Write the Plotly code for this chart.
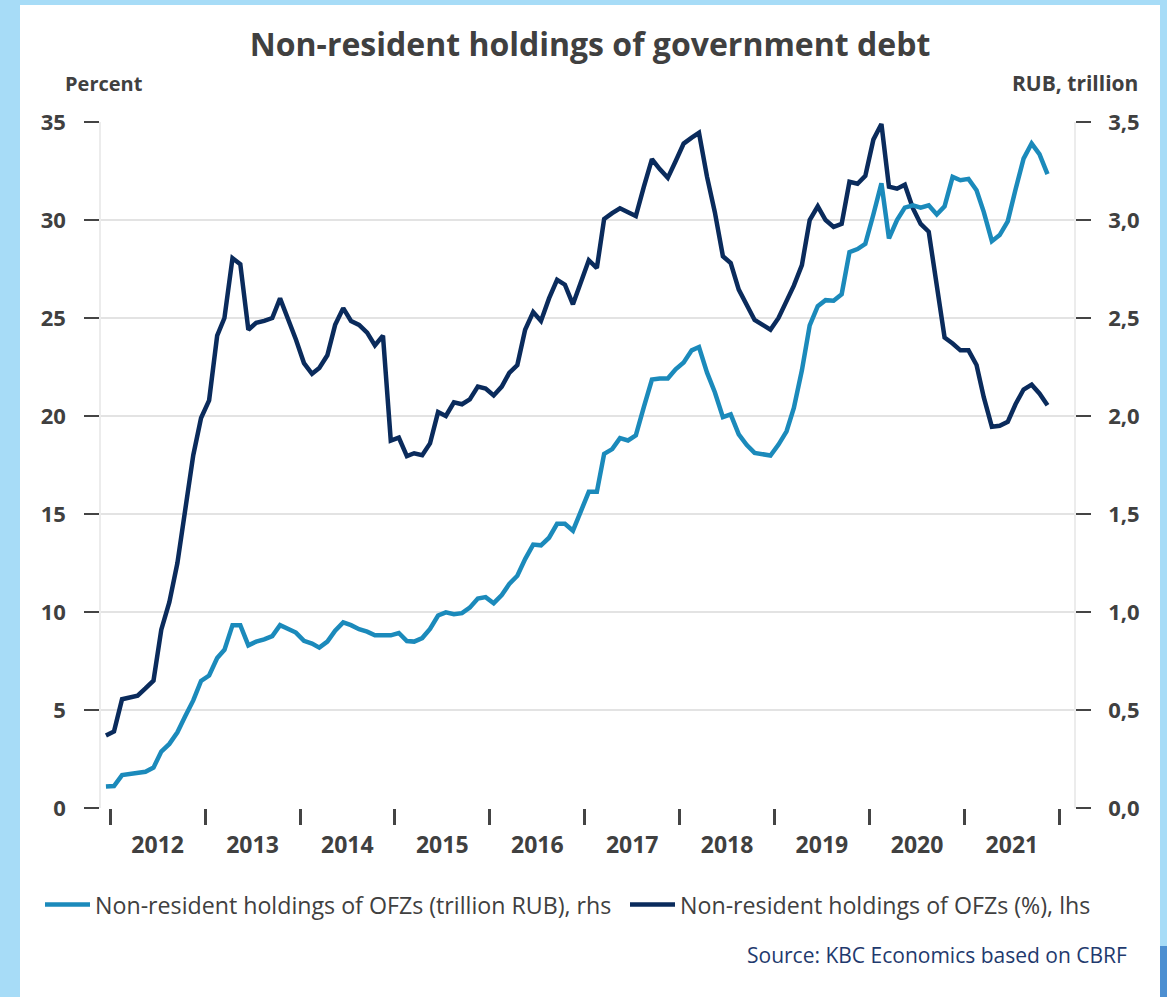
import pandas as pd
import plotly.graph_objects as go

# ---- data (monthly, Dec 2011 - Nov 2021) ----
month_start = "2011-12-01"
n_months = 120

pct_holdings = [
    3.7, 3.9, 5.55, 5.65, 5.73, 6.1, 6.5, 9.1, 10.5, 12.5, 15.2, 18.0,
    19.9, 20.8, 24.1, 25.0, 28.05, 27.75, 24.4, 24.75, 24.85, 25.0, 26.0, 24.95,
    23.9, 22.7, 22.15, 22.45, 23.1, 24.65, 25.5, 24.85, 24.65, 24.25, 23.6, 24.1,
    18.75, 18.9, 17.95, 18.1, 18.0, 18.6, 20.2, 20.0, 20.7, 20.6, 20.85, 21.5,
    21.4, 21.05, 21.5, 22.2, 22.6, 24.4, 25.3, 24.85, 26.0, 26.95, 26.7, 25.7,
    26.8, 27.95, 27.55, 30.05, 30.35, 30.6, 30.4, 30.2, 31.7, 33.1, 32.6, 32.15,
    33.0, 33.9, 34.2, 34.45, 32.2, 30.4, 28.15, 27.8, 26.45, 25.65, 24.9, 24.65,
    24.4, 25.0, 25.9, 26.65, 27.7, 30.0, 30.7, 30.0, 29.65, 29.8, 31.95, 31.85,
    32.25, 34.1, 34.9, 31.7, 31.6, 31.8, 30.6, 29.8, 29.4, 26.8, 24.0, 23.7,
    23.35, 23.35, 22.6, 20.95, 19.45, 19.5, 19.7, 20.6, 21.35, 21.6, 21.15, 20.55,
]

rub_holdings = [
    0.110, 0.112, 0.168, 0.173, 0.175, 0.185, 0.206, 0.288, 0.327, 0.386, 0.468, 0.549,
    0.648, 0.676, 0.765, 0.807, 0.933, 0.933, 0.830, 0.849, 0.860, 0.877, 0.933, 0.912,
    0.895, 0.853, 0.839, 0.818, 0.849, 0.905, 0.947, 0.933, 0.912, 0.900, 0.881, 0.881,
    0.881, 0.893, 0.852, 0.849, 0.867, 0.914, 0.982, 0.998, 0.989, 0.994, 1.022, 1.069,
    1.076, 1.045, 1.087, 1.143, 1.185, 1.270, 1.344, 1.340, 1.379, 1.450, 1.450, 1.415,
    1.520, 1.613, 1.613, 1.807, 1.831, 1.887, 1.875, 1.901, 2.046, 2.186, 2.191, 2.191,
    2.238, 2.273, 2.335, 2.352, 2.221, 2.121, 1.994, 2.008, 1.906, 1.852, 1.812, 1.805,
    1.798, 1.854, 1.922, 2.041, 2.233, 2.462, 2.560, 2.591, 2.588, 2.621, 2.836, 2.852,
    2.878, 3.028, 3.187, 2.906, 3.000, 3.063, 3.075, 3.063, 3.075, 3.028, 3.070, 3.220,
    3.203, 3.210, 3.152, 3.040, 2.892, 2.923, 2.993, 3.156, 3.313, 3.390, 3.336, 3.234,
]

year_labels = ["2012", "2013", "2014", "2015", "2016", "2017", "2018", "2019", "2020", "2021"]
boundary_years = list(range(2012, 2023))

name_rub = "Non-resident holdings of OFZs (trillion RUB), rhs"
name_pct = "Non-resident holdings of OFZs (%), lhs"

# mid-month dates
months = pd.date_range(month_start, periods=n_months, freq="MS") + pd.Timedelta(days=15)

LIGHT = "#1b8abb"
DARK = "#0a2b5c"
TXT = "#404040"
FONT = "Open Sans"

W, H = 1167, 997
L, R, T, B = 101, 1074, 122, 808  # plot area in px


def px_x(p):
    return (p - L) / (R - L)


def px_y(p):
    return (B - p) / (B - T)


fig = go.Figure()
fig.add_trace(go.Scatter(x=months, y=rub_holdings, name=name_rub, mode="lines",
                         line=dict(color=LIGHT, width=4.5), yaxis="y2", legend="legend2"))
fig.add_trace(go.Scatter(x=months, y=pct_holdings, name=name_pct, mode="lines",
                         line=dict(color=DARK, width=4.5), yaxis="y", legend="legend3"))


def legend_at(px_left):
    return dict(orientation="h", x=px_x(px_left), xanchor="left", y=px_y(905), yanchor="middle",
                font=dict(size=23.2, color=TXT, family=FONT), bgcolor="rgba(0,0,0,0)",
                itemwidth=45, visible=True)


fig.update_layout(
    width=W, height=H,
    margin=dict(l=L, r=W - R, t=T, b=H - B),
    paper_bgcolor="#a7dcf7",
    plot_bgcolor="white",
    separators=", ",
    showlegend=True,
    font=dict(family=FONT, color=TXT),
    title=dict(text="<b>Non-resident holdings of government debt</b>",
               x=px_x(590), xref="paper", y=1 - 45 / H, yref="container",
               xanchor="center", yanchor="middle",
               font=dict(size=32, color=TXT, family=FONT)),
    xaxis=dict(
        type="date",
        range=["2011-11-27", "2022-02-26"],
        tickmode="array",
        tickvals=[f"{y}-07-02" for y in year_labels],
        ticktext=[f"<b>{y}</b>" for y in year_labels],
        ticks="outside", ticklen=16, tickcolor="rgba(0,0,0,0)",
        tickfont=dict(size=23, color=TXT, family=FONT),
        showgrid=False, zeroline=False,
        showline=False,
        minor=dict(tickmode="array", tickvals=[f"{y}-01-01" for y in boundary_years],
                   ticks="outside", ticklen=16, tickwidth=2.5, tickcolor="#444444",
                   showgrid=False),
    ),
    yaxis=dict(
        range=[0, 35], tickmode="linear", tick0=0, dtick=5,
        ticks="outside", ticklen=15, tickwidth=1.5, tickcolor="#444444",
        ticklabelstandoff=14,
        tickfont=dict(size=22, color=TXT, family=FONT),
        tickprefix="<b>", ticksuffix="</b>",
        showgrid=True, gridcolor="#e3e3e3", gridwidth=1.5,
        zeroline=False, showline=True, linecolor="#ececec", linewidth=1.5,
    ),
    yaxis2=dict(
        range=[0, 3.5], tickmode="linear", tick0=0, dtick=0.5, tickformat=".1f",
        overlaying="y", side="right",
        ticks="outside", ticklen=15, tickwidth=1.5, tickcolor="#444444",
        ticklabelstandoff=13,
        tickfont=dict(size=22, color=TXT, family=FONT),
        tickprefix="<b>", ticksuffix="</b>",
        showgrid=False, zeroline=False, showline=True, linecolor="#ececec", linewidth=1.5,
    ),
    legend2=legend_at(40),
    legend3=legend_at(625),
    shapes=[
        dict(type="rect", xref="paper", yref="paper", layer="below",
             x0=px_x(20), x1=px_x(1160), y0=px_y(997), y1=px_y(5),
             fillcolor="white", line=dict(width=0)),
        dict(type="rect", xref="paper", yref="paper", layer="below",
             x0=px_x(1160), x1=px_x(1167), y0=px_y(997), y1=px_y(946),
             fillcolor="#4d8fd1", line=dict(width=0)),
    ],
    annotations=[
        dict(text="<b>Percent</b>", x=px_x(63), y=px_y(83), xref="paper", yref="paper",
             xanchor="left", yanchor="middle", showarrow=False,
             font=dict(size=20, color=TXT, family=FONT)),
        dict(text="<b>RUB, trillion</b>", x=px_x(1140), y=px_y(83), xref="paper", yref="paper",
             xanchor="right", yanchor="middle", showarrow=False,
             font=dict(size=21, color=TXT, family=FONT)),
        dict(text="Source: KBC Economics based on CBRF", x=px_x(1129), y=px_y(955),
             xref="paper", yref="paper", xanchor="right", yanchor="middle", showarrow=False,
             font=dict(size=21, color="#1f3a6e", family=FONT)),
    ],
)

fig.write_html("out.html", config={"displayModeBar": False},
               post_script="document.body.style.margin='0';document.body.style.overflow='hidden';")
